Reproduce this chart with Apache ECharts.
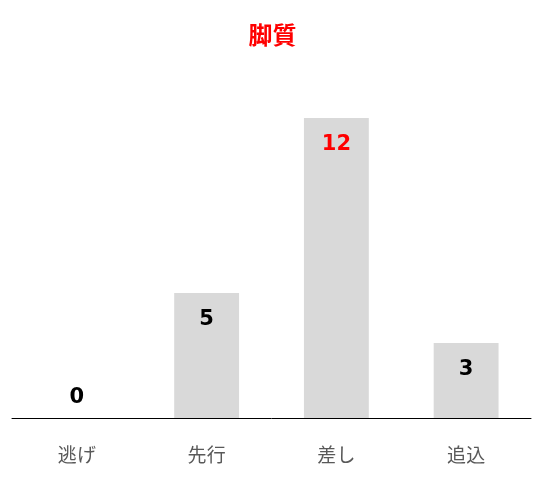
<!DOCTYPE html>
<html>
<head>
<meta charset="utf-8">
<script src="https://cdn.jsdelivr.net/npm/echarts@6/dist/echarts.min.js"></script>
<style>
    html, body { margin: 0; padding: 0; background: #fff; }
    #main { width: 545px; height: 480px; }
</style>
</head>
<body>
<div id="main"></div>
<script>
// 脚質データ
var categories = ['逃げ', '先行', '差し', '追込'];
var counts = [0, 5, 12, 3];
var highlightIndex = 2; // 最多は赤字

var myChart = echarts.init(document.getElementById('main'));

var seriesData = counts.map(function (v, i) {
    var item = {
        value: v,
        label: {
            color: i === highlightIndex ? '#FF0000' : '#000000'
        }
    };
    if (v === 0) {
        item.label.position = 'top';
        item.label.distance = 10;
    }
    return item;
});

myChart.setOption({
    title: {
        text: '脚質',
        left: 'center',
        top: 18,
        textStyle: {
            color: '#FF0000',
            fontSize: 24,
            fontWeight: 'bold',
            fontFamily: 'Noto Sans CJK JP'
        }
    },
    grid: {
        left: 12,
        right: 14,
        top: 118,
        bottom: 62
    },
    // X轴
    xAxis: {
        type: 'category',
        data: categories,
        axisTick: { show: false },
        axisLine: {
            lineStyle: { color: '#000000', width: 1 }
        },
        axisLabel: {
            color: '#595959',
            fontSize: 19,
            margin: 27,
            fontFamily: 'Noto Sans CJK JP'
        }
    },
    // Y轴
    yAxis: {
        type: 'value',
        min: 0,
        max: 12,
        show: false,
        splitLine: { show: false }
    },
    series: [{
        type: 'bar',
        barWidth: '50%',
        itemStyle: { color: '#D9D9D9' },
        label: {
            show: true,
            position: 'insideTop',
            distance: 16,
            fontSize: 21,
            fontWeight: 'bold',
            fontFamily: 'DejaVu Sans'
        },
        data: seriesData
    }]
});
</script>
</body>
</html>
